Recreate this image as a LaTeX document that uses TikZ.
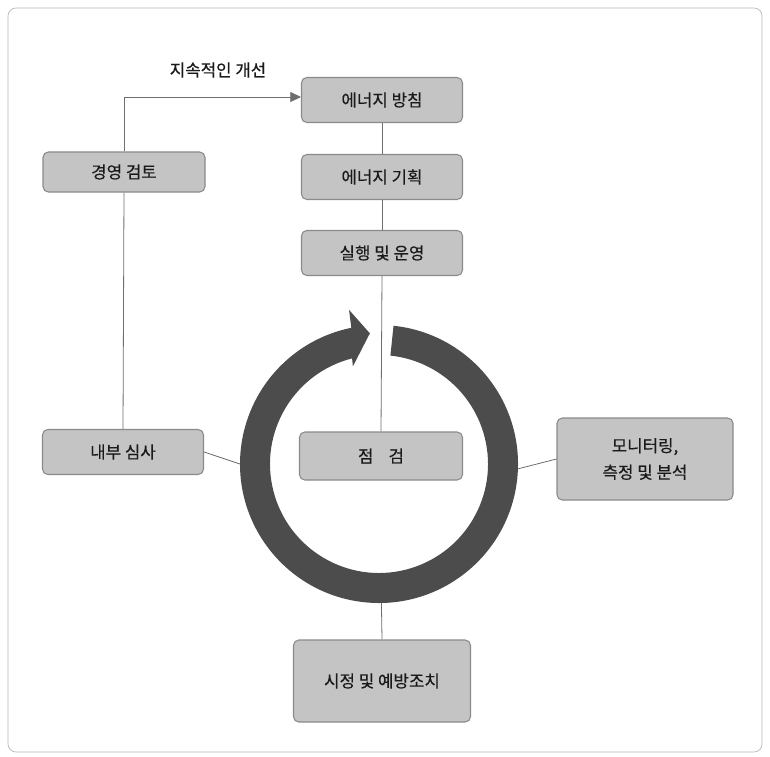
\documentclass[tikz,border=0pt]{standalone}
\usepackage{fontspec}
\newfontfamily\kr[FakeBold=0.35]{Noto Sans CJK KR}
\usetikzlibrary{arrows.meta,calc}
\definecolor{boxfill}{HTML}{C4C4C4}
\definecolor{boxedge}{HTML}{8A8A8A}
\definecolor{ringgray}{HTML}{4C4C4C}
\definecolor{linegray}{HTML}{6E6E6E}
\definecolor{framegray}{HTML}{B4B4B4}
\definecolor{txt}{HTML}{1A1A1A}
\begin{document}
\begin{tikzpicture}[x=0.75pt,y=0.75pt,
  box/.style={draw=boxedge, fill=boxfill, rounded corners=4pt, line width=0.8pt,
    font=\kr\fontsize{12.6}{20}\selectfont, text=txt, align=center, inner sep=0pt},
  conn/.style={draw=linegray, line width=0.6pt},
  lbl/.style={font=\kr\fontsize{12.6}{15}\selectfont, text=txt}]
\useasboundingbox (0,0) rectangle (770,-756);
\draw[framegray, line width=0.5pt, rounded corners=6pt] (8,-8) rectangle (762,-752);

% ring arrow
\begin{scope}[shift={(379,-464)}]
  \coordinate (ringL) at (180:139);
  \coordinate (ringR) at (-2:139);
  \coordinate (ringB) at (-89:139);
  \fill[ringgray] (84:139) arc[start angle=84, end angle=-258.5, radius=139]
     -- (-259:157) -- (-266:131) -- (-255:101) -- (-255.7:109)
     arc[start angle=-255.7, end angle=84, radius=109] -- cycle;
\end{scope}

% nodes
\node[box, minimum width=120.75pt, minimum height=33.75pt] (policy) at (382,-100) {에너지 방침};
\node[box, minimum width=120.75pt, minimum height=33.75pt] (plan) at (382,-177) {에너지 기획};
\node[box, minimum width=120.75pt, minimum height=33.75pt] (do) at (382,-253) {실행 및 운영};
\node[box, minimum width=121.5pt, minimum height=30pt] (review) at (124,-172) {경영 검토};
\node[box, minimum width=120.75pt, minimum height=33.75pt] (audit) at (123,-452) {내부 심사};
\node[box, minimum width=132pt, minimum height=61.5pt] (monitor) at (645,-459) {모니터링,\\측정 및 분석};
\node[box, minimum width=122.25pt, minimum height=36pt] (check) at (381,-456) {점\hspace{0.9em}검};
\node[box, minimum width=132.75pt, minimum height=61.5pt] (correct) at (382,-681) {시정 및 예방조치};
\node[lbl] (improve) at (218,-70) {지속적인 개선};

% connectors
\draw[conn] (policy.south) -- (plan.north);
\draw[conn] (plan.south) -- (do.north);
\draw[conn] (do.south) -- (check.north);
\draw[conn, -{Triangle[length=8pt,width=7.5pt]}] (review.north) |- ($(policy.west)+(0,3)$);
\draw[conn] (review.south) -- (audit.north);
\draw[conn] (audit.east) -- (ringL);
\draw[conn] (monitor.west) -- (ringR);
\draw[conn] (ringB) -- (correct.north);
\end{tikzpicture}
\end{document}
